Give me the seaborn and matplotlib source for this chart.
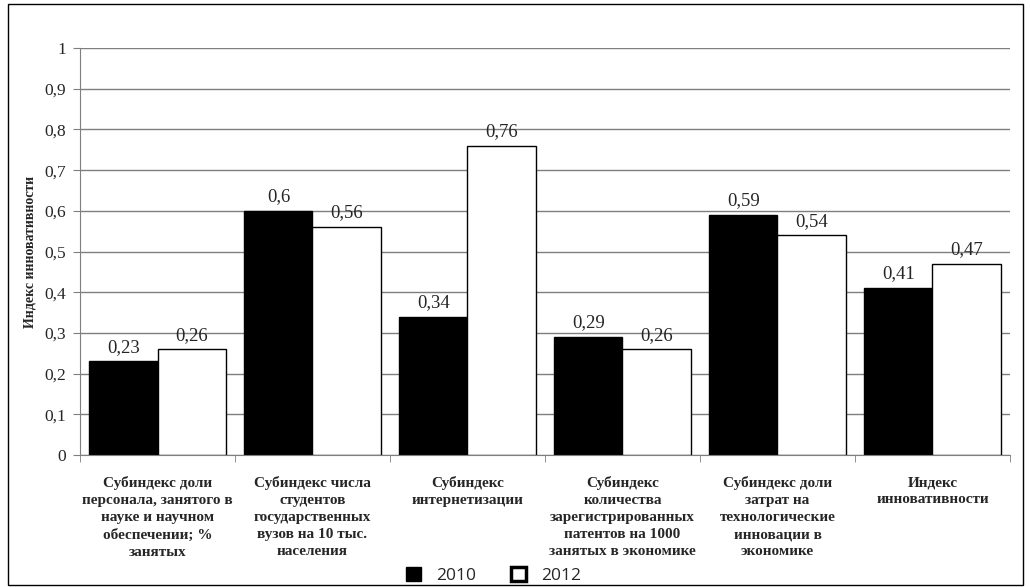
import pandas as pd
import matplotlib.pyplot as plt
import seaborn as sns
from matplotlib.patches import Rectangle
from matplotlib.ticker import FixedLocator

categories = [
    'Субиндекс доли\nперсонала, занятого в\nнауке и научном\nобеспечении; %\nзанятых',
    'Субиндекс числа\nстудентов\nгосударственных\nвузов на 10 тыс.\nнаселения',
    'Субиндекс\nинтернетизации',
    'Субиндекс\nколичества\nзарегистрированных\nпатентов на 1000\nзанятых в экономике',
    'Субиндекс доли\nзатрат на\nтехнологические\nинновации в\nэкономике',
    'Индекс\nинновативности',
]
values_2010 = [0.23, 0.60, 0.34, 0.29, 0.59, 0.41]
values_2012 = [0.26, 0.56, 0.76, 0.26, 0.54, 0.47]
years = ['2010', '2012']
yticks = [0, 0.1, 0.2, 0.3, 0.4, 0.5, 0.6, 0.7, 0.8, 0.9, 1]
ytick_labels = ['0', '0,1', '0,2', '0,3', '0,4', '0,5', '0,6', '0,7', '0,8', '0,9', '1']

df = pd.DataFrame({
    'cat': categories * 2,
    'year': [years[0]] * 6 + [years[1]] * 6,
    'value': values_2010 + values_2012,
})

sns.set_style('white')
plt.rcParams['font.family'] = ['Liberation Serif', 'DejaVu Serif']

fig = plt.figure(figsize=(10.31, 5.87), dpi=100)
ax = fig.add_axes([0.0776, 0.225, 0.902, 0.693])

sns.barplot(data=df, x='cat', y='value', hue='year', palette=['black', 'white'],
            edgecolor='black', linewidth=1, width=0.88, gap=0, ax=ax, legend=False)

ax.set_ylim(0, 1)
ax.set_xlim(-0.5, len(categories) - 0.5)
ax.set_yticks(yticks)
ax.set_yticklabels(ytick_labels)
ax.yaxis.grid(True, color='#7f7f7f', linewidth=1)
ax.set_axisbelow(True)
for s in ['top', 'right']:
    ax.spines[s].set_visible(False)
ax.spines['left'].set_color('#7f7f7f')
ax.spines['bottom'].set_color('#7f7f7f')
ax.tick_params(axis='y', left=True, length=5, color='#7f7f7f', labelsize=12.5, pad=5)

# x category labels, ticks at category boundaries
ax.set_xticks(range(len(categories)))
ax.set_xticklabels(categories, fontsize=11, fontweight='bold', linespacing=1.4)
ax.tick_params(axis='x', bottom=False, pad=12)
ax.xaxis.set_minor_locator(FixedLocator([i - 0.5 for i in range(len(categories) + 1)]))
ax.tick_params(axis='x', which='minor', bottom=True, length=5, color='#7f7f7f')
ax.set_xlabel('')
ax.set_ylabel('Индекс инновативности', fontsize=10, fontweight='bold', labelpad=6)

for cont in ax.containers:
    ax.bar_label(cont, labels=[f'{v:.2f}'.rstrip('0').replace('.', ',') for v in cont.datavalues],
                 fontsize=13.5, padding=4)

# legend
handles = [Rectangle((0, 0), 1, 1, facecolor='black', edgecolor='black'),
           Rectangle((0, 0), 1, 1, facecolor='white', edgecolor='black', linewidth=2.5)]
fig.legend(handles, years, loc='center', bbox_to_anchor=(0.479, 0.019), ncol=2,
           frameon=False, handlelength=0.85, handleheight=0.85, columnspacing=2.0,
           handletextpad=0.9, borderpad=0, prop={'family': 'Open Sans', 'size': 12.5})

fig.patches.append(Rectangle((0.008, 0.003), 0.984, 0.99, transform=fig.transFigure,
                             fill=False, edgecolor='black', linewidth=1))

fig.savefig('out.png', dpi=100)
